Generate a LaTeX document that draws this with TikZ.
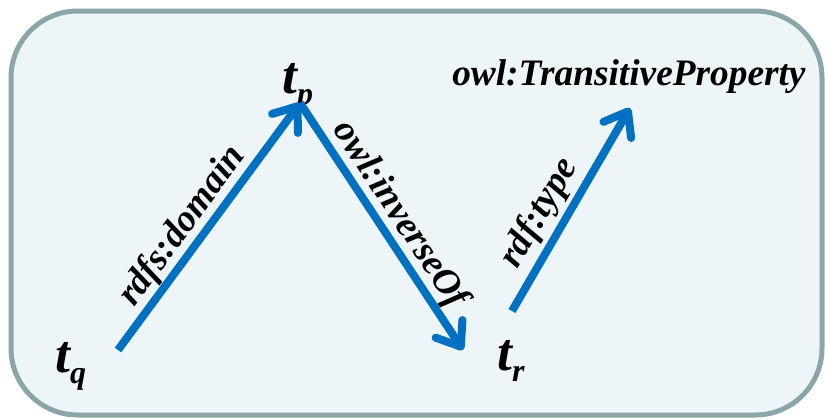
\documentclass[tikz,border=0pt]{standalone}
\usepackage{fontspec}
\setmainfont{Liberation Serif}
\usepackage{xcolor}
\usetikzlibrary{arrows.meta,positioning,calc}
\definecolor{panelfill}{HTML}{EDF5F8}
\definecolor{panelline}{HTML}{8BA6A9}
\definecolor{linkblue}{HTML}{0070C0}

\newcommand{\termsub}[2]{#1\raisebox{-0.22em}{\fontsize{24}{24}\selectfont #2}}

\tikzset{
  link/.style={draw=linkblue, line width=6pt,
    -{Straight Barb[length=16pt, width=24pt, round]}},
  lbl/.style={font=\fontsize{28}{28}\selectfont\bfseries\itshape, inner sep=0pt},
  term/.style={font=\fontsize{40}{40}\selectfont\bfseries\itshape, inner sep=0pt}
}

\begin{document}
\begin{tikzpicture}[x=0.75pt, y=-0.75pt]
  \useasboundingbox (0,0) rectangle (825,418);
  \draw[line width=3.75pt, draw=panelline, fill=panelfill, rounded corners=50pt]
    (11,11) rectangle (822,415);

  % resources
  \node[term, anchor=base west] (tq) at (55,372) {\termsub{t}{q}};
  \node[term, anchor=base west] (tp) at (282,93) {\termsub{t}{p}};
  \node[term, anchor=base west] (tr) at (497,370) {\termsub{t}{r}};
  \node[lbl, anchor=base west] (prop) at (452,85) {owl:TransitiveProperty};

  % arrow ends
  \coordinate (q-out) at (118,350);
  \coordinate (p-in) at (300,103);
  \coordinate (r-in) at (463,350);
  \coordinate (r-out) at (512,311);
  \coordinate (prop-in) at (630,108);

  \draw[link] (q-out) -- node[lbl, sloped, pos=0.45, anchor=south] (dom) {rdfs:domain} (p-in);
  \draw[link] (p-in) -- node[lbl, sloped, pos=0.5, anchor=south] (inv) {owl:inverseOf} (r-in);
  \draw[link] (r-out) -- node[lbl, sloped, pos=0.42, anchor=south, yshift=3pt] (typ) {rdf:type} (prop-in);
\end{tikzpicture}
\end{document}
